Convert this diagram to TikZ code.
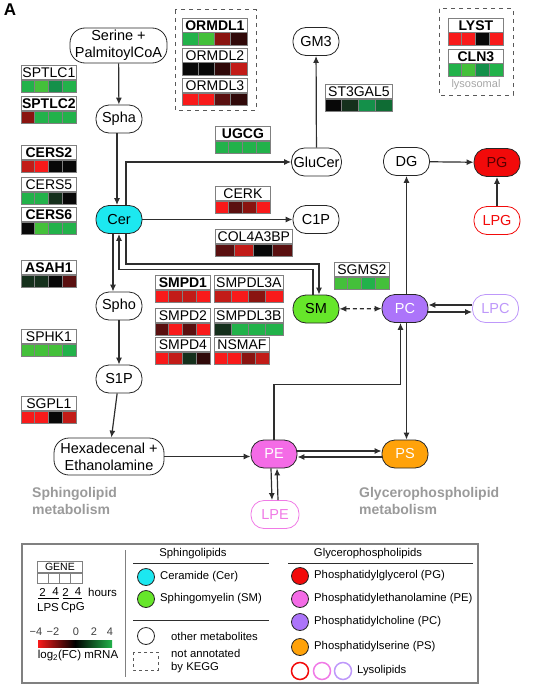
\documentclass[tikz,border=0pt]{standalone}
\usepackage{fontspec}
\setmainfont{Liberation Sans}
\usepackage{tikz}
\usetikzlibrary{arrows.meta, positioning, calc}
\definecolor{cercyan}{HTML}{1CE8F0}
\definecolor{smgreen}{HTML}{66E62A}
\definecolor{pcpurple}{HTML}{AC74FA}
\definecolor{pepink}{HTML}{F46BE6}
\definecolor{psorange}{HTML}{FFA20A}
\definecolor{pgred}{HTML}{F20A0A}
\definecolor{lpcviolet}{HTML}{BE98FA}
\definecolor{lpepink}{HTML}{F07AE6}
\definecolor{framegray}{HTML}{808080}
\definecolor{regiongray}{HTML}{9A9A9A}
\definecolor{linegray}{HTML}{2E2E2E}
% expression colours
\definecolor{gA}{HTML}{22B24A}
\definecolor{gB}{HTML}{44C03A}
\definecolor{gC}{HTML}{14904A}
\definecolor{gD}{HTML}{0F6C34}
\definecolor{gE}{HTML}{15301C}
\definecolor{rA}{HTML}{F81A1A}
\definecolor{rB}{HTML}{C21C18}
\definecolor{rC}{HTML}{8A1410}
\definecolor{rD}{HTML}{5A1010}
\definecolor{rE}{HTML}{300909}
\definecolor{kk}{HTML}{080808}

% gene: name, top-left, width, label, four cell colours
\newcommand{\genebox}[5]{%
  \node[genelabel, minimum width=#3, anchor=north west] (#1) at #2 {#4};
  \foreach \cc [count=\ii from 0] in {#5}
    \draw[genecell, fill=\cc] ($(#1.south west)+(\ii*#3/4,0)$) rectangle ++(#3/4,12.5);
}

\begin{document}
\begin{tikzpicture}[
    x=1pt, y=-1pt,
    met/.style={draw=black!85, line width=0.8pt, fill=white, rounded corners=13pt,
                minimum width=46pt, minimum height=28pt, inner xsep=2pt, inner ysep=1pt,
                align=center, font=\fontsize{14.5}{17}\selectfont},
    genelabel/.style={draw=framegray, line width=0.8pt, fill=white, minimum height=14pt,
                      inner sep=0pt, font=\fontsize{14}{14}\selectfont},
    genecell/.style={draw=framegray, line width=0.6pt},
    arr/.style={-{Latex[length=7pt,width=6pt]}, linegray, line width=1.2pt},
    kegg/.style={draw=black!65, dash pattern=on 4pt off 4pt, line width=1pt},
    region/.style={font=\fontsize{14}{17}\selectfont\bfseries, text=regiongray,
                   align=left, anchor=north west, inner sep=0pt},
    legtext/.style={font=\fontsize{11.3}{13}\selectfont, anchor=west, inner sep=0pt},
    legdot/.style={circle, draw=black!85, line width=0.8pt, minimum size=17pt, inner sep=0pt},
]
    \useasboundingbox (0,0) rectangle (536,693);
    \node[font=\fontsize{17}{17}\selectfont\bfseries] (panel) at (10,10) {A};

    % Sphingolipid metabolites
    \node[met, minimum width=97pt, minimum height=35pt, rounded corners=15pt] (serine) at (118.5,45.5) {Serine +\\PalmitoylCoA};
    \node[met] (spha) at (119,119) {Spha};
    \node[met, fill=cercyan] (cer) at (119,219.5) {Cer};
    \node[met] (spho) at (119,306) {Spho};
    \node[met] (s1p) at (119,379) {S1P};
    \node[met, minimum width=110pt, minimum height=37pt, rounded corners=15pt] (hexa) at (109,456.5) {Hexadecenal +\\Ethanolamine};
    \node[met] (gm3) at (316,41.5) {GM3};
    \node[met, minimum width=49pt] (glucer) at (316.5,162) {GluCer};
    \node[met] (c1p) at (316,219.5) {C1P};
    \node[met, fill=smgreen] (sm) at (316,309) {SM};

    % Glycerophospholipid metabolites
    \node[met] (dg) at (406.5,161.5) {DG};
    \node[met, fill=pgred, text=red!35!black] (pg) at (497,162.5) {PG};
    \node[met, draw=pgred, text=pgred] (lpg) at (497,220.5) {LPG};
    \node[met, fill=pcpurple, text=white] (pc) at (405,308.5) {PC};
    \node[met, draw=lpcviolet, text=lpcviolet] (lpc) at (495.5,308.5) {LPC};
    \node[met, fill=pepink, text=white] (pe) at (274,454) {PE};
    \node[met, fill=psorange, text=white] (ps) at (405,454) {PS};
    \node[met, minimum width=48pt, draw=lpepink, text=lpepink] (lpe) at (275,514.5) {LPE};

    % Genes
    \genebox{sptlc1}{(21,65)}{55}{SPTLC1}{gA,gB,gC,gA}
    \genebox{sptlc2}{(21,96)}{55}{\bfseries SPTLC2}{rC,gA,gA,gA}
    \genebox{cers2}{(21,145)}{55}{\bfseries CERS2}{rB,rA,kk,kk}
    \genebox{cers5}{(21,177)}{55}{CERS5}{gA,gA,gE,kk}
    \genebox{cers6}{(21,207)}{55}{\bfseries CERS6}{kk,gB,gA,gA}
    \genebox{asah1}{(21,260)}{55}{\bfseries ASAH1}{gE,gE,kk,rD}
    \genebox{sphk1}{(21,329)}{55}{SPHK1}{gB,gB,gB,gA}
    \genebox{sgpl1}{(21,396)}{55}{SGPL1}{rA,rA,kk,rB}
    \genebox{ormdl1}{(182,18)}{65}{\bfseries ORMDL1}{gA,gB,rC,rE}
    \genebox{ormdl2}{(182,48)}{65}{ORMDL2}{kk,kk,rE,rB}
    \genebox{ormdl3}{(182,78)}{65}{ORMDL3}{rA,rA,rD,rE}
    \genebox{ugcg}{(215,126)}{55}{\bfseries UGCG}{gA,gA,gA,gA}
    \genebox{st3gal5}{(325,84)}{67}{ST3GAL5}{kk,gE,gC,gD}
    \genebox{lyst}{(448,18)}{55}{\bfseries LYST}{rA,rA,kk,rA}
    \genebox{cln3}{(448,49)}{55}{\bfseries CLN3}{gA,gB,gC,gA}
    \genebox{cerk}{(215,186)}{55}{CERK}{rA,rD,rC,rA}
    \genebox{col4a3bp}{(215,229)}{77}{COL4A3BP}{rD,rB,kk,rD}
    \genebox{smpd1}{(155,275)}{55}{\bfseries SMPD1}{rA,rB,rB,rA}
    \genebox{smpdl3a}{(214,275)}{69}{SMPDL3A}{rB,rA,rC,rA}
    \genebox{smpd2}{(155,308)}{55}{SMPD2}{rD,rA,rD,rA}
    \genebox{smpdl3b}{(214,308)}{69}{SMPDL3B}{gE,gA,gA,gA}
    \genebox{smpd4}{(155,337)}{55}{SMPD4}{rA,rB,gE,rE}
    \genebox{nsmaf}{(214,337)}{55}{NSMAF}{rA,rA,rC,rB}
    \genebox{sgms2}{(334,262)}{55}{SGMS2}{gB,gB,gA,gB}

    % Not annotated by KEGG
    \draw[kegg] (175,10) rectangle (256,110);
    \draw[kegg] (439,9) rectangle (513,95);
    \node[font=\fontsize{11}{12}\selectfont, text=black!35] (lysosomal) at (476,85) {lysosomal};

    % Connections
    \draw[arr] (serine) -- (spha);
    \draw[arr] ([xshift=-2pt]spha.south) -- ([xshift=-2pt]cer.north);
    \draw[arr] ([xshift=7pt]cer.north) |- (glucer.west);
    \draw[arr] (glucer) -- (gm3);
    \draw[arr] (cer) -- (c1p);
    \draw[arr] ([xshift=7pt]cer.south) -- ++(0,30) -| ([xshift=3pt]sm.north);
    \draw[arr] ([xshift=-3pt]sm.north) -- ++(0,-25) -| (cer.south);
    \draw[arr] ([xshift=-6pt]cer.south) -- ([xshift=-6pt]spho.north);
    \draw[arr] (spho) -- (s1p);
    \draw[arr] (s1p) -- (hexa);
    \draw[arr] (hexa.east) -- (hexa.east -| pe.west);
    \draw[arr, {Latex[length=7pt,width=6pt]}-{Latex[length=7pt,width=6pt]}, dash pattern=on 4pt off 3pt] (sm) -- (pc);
    \draw[arr] (pc.north -| dg.south) -- (dg.south);
    \draw[arr] (dg) -- (pg);
    \draw[arr] (lpg) -- (pg);
    \draw[arr] ([yshift=3.5pt]lpc.west) -- ([yshift=3.5pt]pc.east);
    \draw[arr] ([yshift=-3.5pt]pc.east) -- ([yshift=-3.5pt]lpc.west);
    \draw[arr] (pe.north) -- ++(0,-55) -| ([xshift=-4.5pt]pc.south);
    \draw[arr] ([xshift=1.5pt]pc.south) -- ([xshift=1.5pt]ps.north);
    \draw[arr] ([yshift=3pt]pe.east) -- ([yshift=3pt]ps.west);
    \draw[arr] ([yshift=-3pt]ps.west) -- ([yshift=-3pt]pe.east);
    \draw[arr] ([xshift=-3pt]pe.south) -- ([xshift=-3pt]lpe.north);
    \draw[arr] ([xshift=3pt]lpe.north) -- ([xshift=3pt]pe.south);

    % Regions
    \node[region] (sphingo) at (32,487) {Sphingolipid\\metabolism};
    \node[region] (glycero) at (359,487) {Glycerophospholipid\\metabolism};

    % Legend
    \draw[framegray, line width=1.2pt] (22,544) rectangle (478,683);
    \draw[framegray, line width=1pt] (125,550) -- (125,677);
    \node[genelabel, minimum width=45pt, minimum height=11pt, font=\fontsize{10.5}{11}\selectfont, anchor=north west] (genekey) at (37,561) {GENE};
    \foreach \ii in {0,...,3}
      \draw[genecell, fill=white] ($(genekey.south west)+(\ii*11.25,0)$) rectangle ++(11.25,10);
    \foreach \v/\xx in {2/42.5, 4/55.5, 2/65.5, 4/78}
      \node[font=\fontsize{11.5}{12}\selectfont] (hr\xx) at (\xx,592) {\v};
    \node[legtext, font=\fontsize{11.5}{12}\selectfont] (hours) at (88,592) {hours};
    \draw[black, line width=0.9pt] (38,598.5) -- (59,598.5);
    \draw[black, line width=0.9pt] (63,598.5) -- (82,598.5);
    \node[font=\fontsize{11.5}{12}\selectfont] (lps) at (48,608) {LPS};
    \node[font=\fontsize{11.5}{12}\selectfont] (cpg) at (73,608) {CpG};
    \foreach \v/\xx in {−4/36, −2/53, 0/76, 2/94, 4/110}
      \node[font=\fontsize{11}{12}\selectfont, text=black!75] (tick\xx) at (\xx,632) {\v};
    \shade[left color=rA, right color=gA, middle color=black] (38,640) rectangle (112,647);
    \node[font=\fontsize{11.5}{12}\selectfont] (fclabel) at (78,656) {log\textsubscript{2}(FC) mRNA};

    \node[font=\fontsize{11.3}{13}\selectfont] (sphhead) at (193,554) {Sphingolipids};
    \draw[linegray, line width=1pt] (133,563) -- (269,563);
    \node[legdot, fill=cercyan] (keycer) at (146,577) {};
    \node[legtext] (keycertext) at (160,577) {Ceramide (Cer)};
    \node[legdot, fill=smgreen] (keysm) at (146,599) {};
    \node[legtext] (keysmtext) at (160,599) {Sphingomyelin (SM)};
    \draw[linegray, line width=1pt] (133,620) -- (269,620);
    \node[legdot, fill=white] (keyother) at (146,636) {};
    \node[legtext] (keyothertext) at (171,636) {other metabolites};
    \draw[kegg, line width=0.8pt, dash pattern=on 3pt off 3pt] (133,652) rectangle (158,670);
    \node[legtext, align=left] (keykegg) at (171,661) {not annotated\\by KEGG};

    \node[font=\fontsize{11.3}{13}\selectfont] (glyhead) at (368,554) {Glycerophospholipids};
    \draw[linegray, line width=1pt] (288,563) -- (473,563);
    \node[legdot, fill=pgred] (keypg) at (300,576) {};
    \node[legtext] (keypgtext) at (314,576) {Phosphatidylglycerol (PG)};
    \node[legdot, fill=pepink] (keype) at (300,599) {};
    \node[legtext] (keypetext) at (314,599) {Phosphatidylethanolamine (PE)};
    \node[legdot, fill=pcpurple] (keypc) at (300,622) {};
    \node[legtext] (keypctext) at (314,622) {Phosphatidylcholine (PC)};
    \node[legdot, fill=psorange] (keyps) at (300,647) {};
    \node[legtext] (keypstext) at (314,647) {Phosphatidylserine (PS)};
    \node[legdot, draw=pgred, line width=1.5pt] (keylpg) at (300,671) {};
    \node[legdot, draw=lpepink, line width=1.5pt] (keylpe) at (322,671) {};
    \node[legdot, draw=lpcviolet, line width=1.5pt] (keylpc) at (343,671) {};
    \node[legtext] (keylyso) at (357,671) {Lysolipids};
\end{tikzpicture}
\end{document}
